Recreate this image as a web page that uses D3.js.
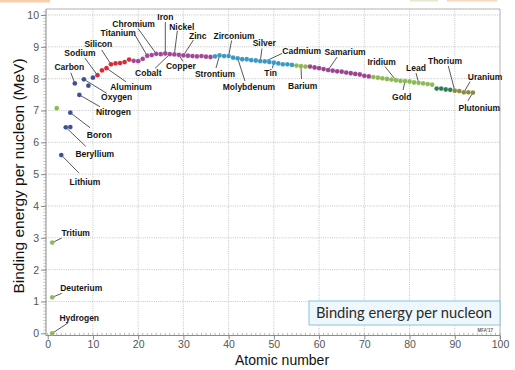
<!DOCTYPE html>
<html>
<head>
<meta charset="utf-8">
<script src="https://cdn.jsdelivr.net/npm/d3@7"></script>
<style>
html,body{margin:0;padding:0;background:#fff;}
svg{display:block;}
</style>
</head>
<body>
<svg id="chart" width="515" height="370"></svg>
<script>
// ---------- DATA ----------
const atomicNumber = d3.range(1, 95);
const bindingEnergy = [
  0.00, 7.07, 5.60, 6.47, 6.93, 7.85, 7.49, 7.98, 7.78, 8.03,   // 1-10
  8.11, 8.26, 8.33, 8.45, 8.48, 8.49, 8.52, 8.60, 8.56, 8.55,   // 11-20
  8.62, 8.72, 8.74, 8.78, 8.77, 8.79, 8.77, 8.76, 8.75, 8.73,   // 21-30
  8.72, 8.71, 8.70, 8.71, 8.69, 8.68, 8.70, 8.73, 8.71, 8.71,   // 31-40
  8.66, 8.64, 8.61, 8.61, 8.58, 8.57, 8.55, 8.54, 8.52, 8.50,   // 41-50
  8.48, 8.45, 8.45, 8.43, 8.41, 8.39, 8.38, 8.38, 8.35, 8.33,   // 51-60
  8.30, 8.27, 8.25, 8.23, 8.22, 8.19, 8.17, 8.15, 8.13, 8.09,   // 61-70
  8.07, 8.05, 8.03, 8.01, 7.99, 7.97, 7.95, 7.93, 7.92, 7.91,   // 71-80
  7.88, 7.87, 7.85, 7.83, 7.81, 7.69, 7.69, 7.66, 7.65, 7.62,   // 81-90
  7.61, 7.57, 7.57, 7.56                                        // 91-94
];
// extra isotopes drawn at their atomic number
const isotopeNames = ["Deuterium", "Tritium", "Boron-10"];
const isotopeZ = [1, 1, 5];
const isotopeEnergy = [1.13, 2.85, 6.48];

// colour groups (first Z of each group)
const groupStart = [1, 3, 11, 19, 37, 55, 58, 72, 86, 90];
const groupName  = ["g1", "g2", "g3", "g4", "g5", "g6", "g7", "g8", "g9", "g10"];

const xTicks = [0, 10, 20, 30, 40, 50, 60, 70, 80, 90, 100];
const yTicks = [0, 1, 2, 3, 4, 5, 6, 7, 8, 9, 10];

const labelNames = ["Hydrogen","Deuterium","Tritium","Lithium","Beryllium","Boron","Carbon","Nitrogen","Oxygen",
  "Sodium","Aluminum","Silicon","Titanium","Chromium","Iron","Cobalt","Nickel","Copper","Zinc",
  "Strontium","Zirconium","Molybdenum","Silver","Cadmium","Tin","Barium","Samarium",
  "Iridium","Gold","Lead","Thorium","Uranium","Plutonium"];
const labelZ = [1,1,1,3,4,5,6,7,8,11,13,14,22,24,26,27,28,29,30,38,40,42,47,48,50,56,62,77,79,82,90,92,94];

// ---------- STYLE / LAYOUT ----------
const groupColor = {
  g1: "#8cb85a", g2: "#3c4e94", g3: "#d02c39", g4: "#a0479a", g5: "#3b97c4",
  g6: "#8cba52", g7: "#9c4090", g8: "#8cba52", g9: "#2e7d58", g10: "#8b8b3e"
};
// text centre offset [dx,dy] and leader end offset [lx,ly] relative to the dot
const labelLayout = {
  Hydrogen:[27,-15,16,-10.5], Deuterium:[29,-9.6,9.5,-4], Tritium:[23.5,-10,9.5,-4.5],
  Lithium:[23.7,26.6,17.7,18], Beryllium:[29,26.4,20,19], Boron:[29,22.3,19.7,15],
  Carbon:[-5.5,-16.7,-4,-10.7], Nitrogen:[34,17.4,20.6,11.8], Oxygen:[32.8,18,22.8,14],
  Sodium:[-17.5,-22,-12.5,-17], Aluminum:[24.5,18.6,19.5,13.6], Silicon:[-12.7,-20.3,-9.3,-14.3],
  Titanium:[-29,-22.4,-12.2,-20.7], Chromium:[-22.7,-29.8,-18.2,-25.3], Iron:[0,-36.8,0,-31.5],
  Cobalt:[-21.5,18.6,-14.8,14.2], Nickel:[7.4,-27.8,3,-23.8], Copper:[2,11.5,4,6.5],
  Zinc:[14.3,-19.4,10,-15.4], Strontium:[-4.6,18.6,-3.6,12.6], Zirconium:[5.4,-20,3,-15.6],
  Molybdenum:[11.3,28.4,7.3,22.7], Silver:[4,-17.8,1.7,-12.6], Cadmium:[36.9,-10.8,17.2,-8],
  Tin:[-3.2,10.3,-1.5,5.5], Barium:[1.7,19.5,0.5,12.8], Samarium:[17,-18.4,9,-13],
  Iridium:[-14.3,-18.5,-11,-13.7], Gold:[-3.3,15.5,-2,8.8], Lead:[-2.6,-14.5,-2.6,-9.8],
  Thorium:[-9.8,-29.8,-6.5,-24.8], Uranium:[21.2,-15.6,6.2,-10.6], Plutonium:[6.4,15.6,-5,8.3]
};

const svg = d3.select("#chart");
const pLeft = 46, pRight = 500, pTop = 9, pBottom = 335.5;

const x = d3.scaleLinear().domain([0, 100]).range([47.7, 500]);
const y = d3.scaleLinear().domain([0, 10]).range([333.3, 15]);

// faint strips at the top of the picture
svg.append("rect").attr("x",0).attr("y",0).attr("width",50).attr("height",2.5).attr("fill","#f8cfa8");
svg.append("rect").attr("x",410).attr("y",0).attr("width",28).attr("height",1.5).attr("fill","#dfe9cf");
svg.append("rect").attr("x",447).attr("y",0).attr("width",50).attr("height",1.5).attr("fill","#f8d8bd");

// grid
const grid = svg.append("g").attr("stroke","#b8b8b8").attr("stroke-width",0.8).attr("stroke-dasharray","1,1.2");
grid.selectAll("line.v").data(xTicks.filter(t => t > 0 && t < 100)).join("line").attr("class","v")
  .attr("x1", d => x(d)).attr("x2", d => x(d)).attr("y1", pTop).attr("y2", pBottom);
grid.selectAll("line.h").data(yTicks.filter(t => t > 0)).join("line").attr("class","h")
  .attr("x1", pLeft).attr("x2", pRight).attr("y1", d => y(d)).attr("y2", d => y(d));

// frame top / right
svg.append("path").attr("d", `M${pLeft},${pTop}H${pRight}V${pBottom+4}`)
  .attr("fill","none").attr("stroke","#a8a8a8").attr("stroke-width",0.9);

// x axis
const xAxisG = svg.append("g").attr("transform", `translate(0,${pBottom})`)
  .call(d3.axisBottom(x).tickValues(xTicks).tickSize(4).tickPadding(1.5));
xAxisG.select(".domain").attr("stroke","#8a8a8a").attr("d", `M${pLeft},0H${pRight}`);
xAxisG.selectAll(".tick line").attr("stroke","#8a8a8a");
xAxisG.selectAll("text").attr("font-family","Liberation Sans, Arial, sans-serif").attr("font-size",10.5).attr("fill","#555");
svg.append("g").attr("stroke","#9a9a9a").attr("stroke-width",0.7)
  .selectAll("line").data(d3.range(0, 101)).join("line")
  .attr("x1", d => x(d)).attr("x2", d => x(d)).attr("y1", pBottom - 2.6).attr("y2", pBottom);

// y axis
const yAxisG = svg.append("g").attr("transform", `translate(${pLeft},0)`)
  .call(d3.axisLeft(y).tickValues(yTicks).tickSize(5).tickPadding(2));
yAxisG.select(".domain").attr("stroke","#8a8a8a").attr("d", `M0,${pTop}V${pBottom}`);
yAxisG.selectAll(".tick line").attr("stroke","#8a8a8a");
yAxisG.selectAll("text").attr("font-family","Liberation Sans, Arial, sans-serif").attr("font-size",10.5).attr("fill","#555");
svg.append("g").attr("stroke","#9a9a9a").attr("stroke-width",0.6)
  .selectAll("line").data(d3.range(0, 102).map(i => i / 10)).join("line")
  .attr("x1", pLeft - 2.6).attr("x2", pLeft).attr("y1", d => y(d)).attr("y2", d => y(d));

// axis titles
svg.append("text").attr("x", 282).attr("y", 365).attr("text-anchor","middle")
  .attr("font-family","Liberation Sans, Arial, sans-serif").attr("font-size",14).attr("fill","#111")
  .text("Atomic number");
svg.append("text").attr("transform","translate(24,176) rotate(-90)").attr("text-anchor","middle")
  .attr("font-family","Liberation Sans, Arial, sans-serif").attr("font-size",15.5).attr("fill","#111")
  .text("Binding energy per nucleon (MeV)");

// points
const groupOf = z => groupName[d3.bisectRight(groupStart, z) - 1];
const points = atomicNumber.map((z, i) => ({ z, v: bindingEnergy[i] }))
  .concat(isotopeZ.map((z, i) => ({ z, v: isotopeEnergy[i] })));

// leader lines & labels
const valueFor = (name, z) => {
  if (name === "Deuterium") return isotopeEnergy[0];
  if (name === "Tritium") return isotopeEnergy[1];
  return bindingEnergy[z - 1];
};
const labels = labelNames.map((n, i) => {
  const z = labelZ[i], v = valueFor(n, z), L = labelLayout[n];
  return { n, px: x(z), py: y(v), dx: L[0], dy: L[1], lx: L[2], ly: L[3] };
});
svg.append("g").attr("stroke","#3a3a3a").attr("stroke-width",0.85)
  .selectAll("line").data(labels).join("line")
  .attr("x1", d => d.px).attr("y1", d => d.py)
  .attr("x2", d => d.px + d.lx).attr("y2", d => d.py + d.ly);

svg.append("g").selectAll("circle").data(points).join("circle")
  .attr("cx", d => x(d.z)).attr("cy", d => y(d.v)).attr("r", 2.4)
  .attr("fill", d => groupColor[groupOf(d.z)])
  .attr("stroke", "#ffffff").attr("stroke-opacity", 0.35).attr("stroke-width", 0.4);

svg.append("g").selectAll("text").data(labels).join("text")
  .attr("x", d => d.px + d.dx).attr("y", d => d.py + d.dy).attr("dy","0.35em")
  .attr("text-anchor","middle")
  .attr("font-family","Liberation Sans, Arial, sans-serif").attr("font-weight","bold")
  .attr("font-size",8.5).attr("fill","#151515")
  .text(d => d.n);

// title box
svg.append("rect").attr("x",309).attr("y",301).attr("width",191).attr("height",24)
  .attr("fill","#eef7fb").attr("stroke","#8cc3da").attr("stroke-width",1);
svg.append("text").attr("x",316).attr("y",318).attr("font-family","Lato, Open Sans, sans-serif")
  .attr("font-size",14.5).attr("fill","#2a2a2a").attr("textLength",176).attr("lengthAdjust","spacingAndGlyphs")
  .text("Binding energy per nucleon");
svg.append("text").attr("x",493).attr("y",332).attr("text-anchor","end")
  .attr("font-family","Liberation Sans, Arial, sans-serif").attr("font-size",4.5).attr("font-weight","bold").attr("fill","#666")
  .text("MFA'17");
</script>
</body>
</html>
